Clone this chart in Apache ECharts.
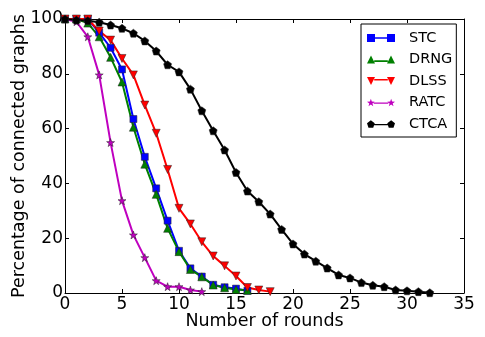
<!DOCTYPE html>
<html><head><meta charset="utf-8">
<script src="https://cdn.jsdelivr.net/npm/echarts@6/dist/echarts.min.js"></script>
<style>html,body{margin:0;padding:0;background:#fff}#c{width:485px;height:337px}</style>
</head><body><div id="c"></div>
<script>
const xTicks = [0, 5, 10, 15, 20, 25, 30, 35];
const yTicks = [0, 20, 40, 60, 80, 100];
const stcValues  = [100,100,100,95,89.5,81.6,63.5,49.7,38.2,26.4,15.4,9.0,6.0,3.0,2.1,1.6,0.8];
const drngValues = [100,100,98.5,93.5,86,77,60.5,47,36,23.6,15.1,8.6,5.9,2.9,1.9,1.3,1.0];
const dlssValues = [100,100,100,95.6,92.3,85.6,79.6,68.6,58.3,45.1,30.9,25.2,18.7,13.5,9.9,6.2,2.0,1.1,0.5];
const ratcValues = [100,99,93.5,79.6,54.9,33.7,21.2,12.9,4.5,2.3,2.3,1.1,0.5];
const ctcaValues = [100,99.6,99.4,98.8,97.8,96.6,94.8,92,88.3,83.3,80.7,74.4,66.5,59.2,52.2,44,37.2,33.3,28.8,23.2,17.9,14.2,11.6,9.1,6.6,5.5,3.8,2.8,2.3,1.1,0.8,0.5,0.1];
const seriesNames = ['STC','DRNG','DLSS','RATC','CTCA'];

const toPairs = v => v.map((y, i) => [i, y]);
const FONT = 'DejaVu Sans';
const STAR = 'path://M10,0 L12.35,6.76 L19.51,6.91 L13.8,11.24 L15.88,18.09 L10,14 L4.12,18.09 L6.2,11.24 L0.49,6.91 L7.65,6.76 Z';
const PENT = 'path://M10,0 L19.51,6.91 L15.88,18.09 L4.12,18.09 L0.49,6.91 Z';
const TRI_DOWN = 'path://M0,0 L20,0 L10,20 Z';

const legendIcons = {
  STC: 'path://M0,0h20v20h-20z M20,8h30v4h-30z M50,0h20v20h-20z',
  DRNG: 'path://M0,20 L10,0 L20,20 Z M18,12h34v4h-34z M50,20 L60,0 L70,20 Z',
  DLSS: 'path://M0,0 L20,0 L10,20 Z M18,5h34v4h-34z M50,0 L70,0 L60,20 Z',
  RATC: 'path://M10,0 L12.35,6.76 L19.51,6.91 L13.8,11.24 L15.88,18.09 L10,14 L4.12,18.09 L6.2,11.24 L0.49,6.91 L7.65,6.76 Z M17,9h36v3h-36z M60,0 L62.35,6.76 L69.51,6.91 L63.8,11.24 L65.88,18.09 L60,14 L54.12,18.09 L56.2,11.24 L50.49,6.91 L57.65,6.76 Z',
  CTCA: 'path://M10,0 L19.51,6.91 L15.88,18.09 L4.12,18.09 L0.49,6.91 Z M17,9h36v3h-36z M60,0 L69.51,6.91 L65.88,18.09 L54.12,18.09 L50.49,6.91 Z'
};

function mk(name, values, color, symbol, size, rotate) {
  return {
    name, type: 'line', data: toPairs(values),
    xAxisIndex: 0, yAxisIndex: 0,
    symbol, symbolSize: size, symbolRotate: rotate || 0,
    lineStyle: { color, width: 2 },
    itemStyle: { color, borderColor: '#222', borderWidth: 0.5 },
    emphasis: { disabled: true }, animation: false, z: 2
  };
}

const chart = echarts.init(document.getElementById('c'), null, { renderer: 'canvas' });
const axisLabel = { color: '#000', fontSize: 17, fontFamily: FONT };
chart.setOption({
  backgroundColor: '#fff',
  animation: false,
  grid: { left: 65, right: 21, top: 19, bottom: 44, containLabel: false, outerBoundsMode: 'none' },
  legend: {
    left: 361, top: 24, orient: 'vertical',
    backgroundColor: '#fff', borderColor: '#000', borderWidth: 1, borderRadius: 0,
    padding: [6, 4, 5, 6],
    itemWidth: 28, itemHeight: 8, itemGap: 5.5,
    textStyle: { color: '#000', fontSize: 14.5, fontFamily: FONT, lineHeight: 16, padding: [0, 0, 0, 9] },
    data: seriesNames.map(n => ({ name: n, icon: legendIcons[n] })),
    itemStyle: { borderWidth: 0 }
  },
  xAxis: [{
    type: 'value', min: 0, max: 35, interval: 5, position: 'bottom',
    name: 'Number of rounds', nameLocation: 'middle', nameGap: 19, nameMoveOverlap: false,
    nameTextStyle: { color: '#000', fontSize: 17.5, fontFamily: FONT },
    axisLine: { show: true, onZero: false, lineStyle: { color: '#000', width: 1 } },
    axisTick: { show: true, inside: true, length: 4, lineStyle: { color: '#000' } },
    axisLabel: Object.assign({ margin: 3, formatter: v => xTicks.includes(v) ? String(v) : '' }, axisLabel),
    splitLine: { show: false }
  }, {
    type: 'value', min: 0, max: 35, interval: 5, position: 'top',
    axisLine: { show: true, onZero: false, lineStyle: { color: '#000', width: 1 } },
    axisTick: { show: true, inside: true, length: 4, lineStyle: { color: '#000' } },
    axisLabel: { show: false }, splitLine: { show: false }
  }],
  yAxis: [{
    type: 'value', min: 0, max: 100, interval: 20, position: 'left',
    name: 'Percentage of connected graphs', nameLocation: 'middle', nameGap: 37, nameMoveOverlap: false,
    nameTextStyle: { color: '#000', fontSize: 17.5, fontFamily: FONT },
    axisLine: { show: true, onZero: false, lineStyle: { color: '#000', width: 1 } },
    axisTick: { show: true, inside: true, length: 4, lineStyle: { color: '#000' } },
    axisLabel: Object.assign({ margin: 2, formatter: v => yTicks.includes(v) ? String(v) : '' }, axisLabel),
    splitLine: { show: false }
  }, {
    type: 'value', min: 0, max: 100, interval: 20, position: 'right',
    axisLine: { show: true, onZero: false, lineStyle: { color: '#000', width: 1 } },
    axisTick: { show: true, inside: true, length: 4, lineStyle: { color: '#000' } },
    axisLabel: { show: false }, splitLine: { show: false }
  }],
  series: [
    mk('STC', stcValues, '#0000ff', 'rect', 7),
    mk('DRNG', drngValues, '#008000', 'triangle', 8),
    mk('DLSS', dlssValues, '#ff0000', TRI_DOWN, 8),
    mk('RATC', ratcValues, '#bf00bf', STAR, 8),
    mk('CTCA', ctcaValues, '#000000', PENT, 8)
  ]
});
</script></body></html>
